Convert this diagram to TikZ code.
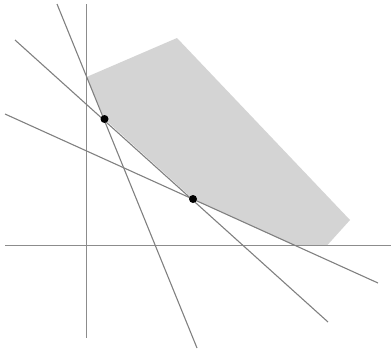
\documentclass[tikz,border=0pt]{standalone}
\begin{document}
\begin{tikzpicture}[x=0.02cm,y=-0.02cm,
  ln/.style={draw=black!50,line width=0.022cm},
  ax/.style={draw=black!45,line width=0.026cm},
  region/.style={fill=black!17,draw=none},
  pt/.style={circle,fill=black,inner sep=0pt,minimum size=0.16cm}]
\useasboundingbox (0,0) rectangle (391,352);
% feasible region
\fill[region] (86.5,77) -- (177,38) -- (350,220) -- (327,245.5) -- (294,245.5) -- (193,199) -- (104.5,119) -- cycle;
% axes
\coordinate (xs) at (5,245.5);
\coordinate (xe) at (391,245.5);
\coordinate (ys) at (86.5,4);
\coordinate (ye) at (86.5,338);
\draw[ax] (xs) -- (xe);
\draw[ax] (ys) -- (ye);
% lines
\coordinate (as) at (57,4);
\coordinate (ae) at (197,348);
\coordinate (bs) at (15,40);
\coordinate (be) at (328,322);
\coordinate (cs) at (5,114);
\coordinate (ce) at (378,283);
\draw[ln] (as) -- (ae);
\draw[ln] (bs) -- (be);
\draw[ln] (cs) -- (ce);
% points
\node[pt] (p1) at (104.5,119) {};
\node[pt] (p2) at (193,199) {};
\end{tikzpicture}
\end{document}
